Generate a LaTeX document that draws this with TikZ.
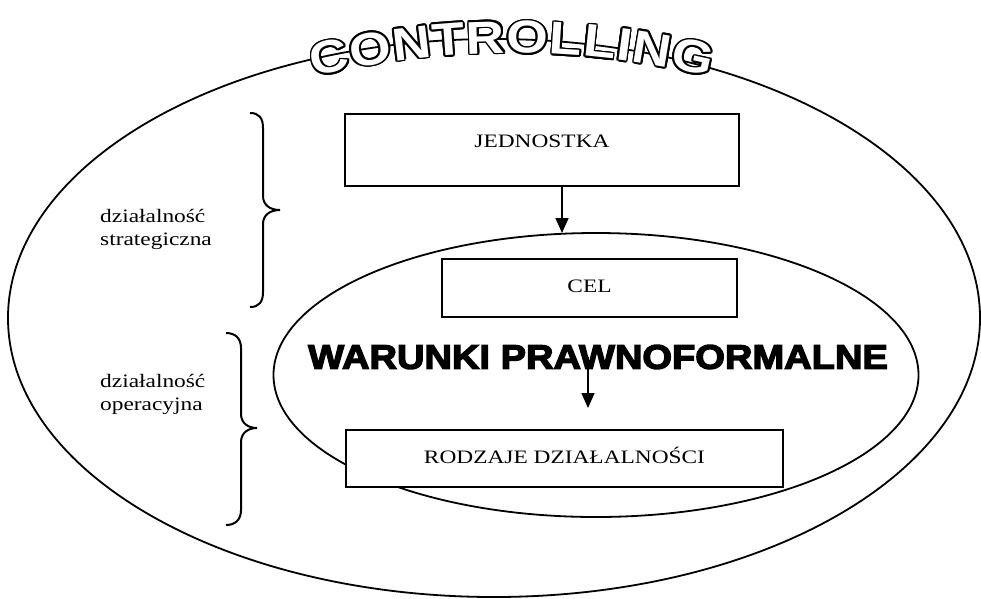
\documentclass[tikz,border=0pt]{standalone}
\usepackage{fontspec}
\usepackage{contour}
\usetikzlibrary{shapes.geometric, arrows.meta, positioning, calc}

\setmainfont{Liberation Serif}
\newfontfamily\scanserif[FakeStretch=1.23]{Liberation Serif}
\newfontfamily\heavysans[FakeStretch=1.12,FakeBold=4]{Liberation Sans Bold}
\newfontfamily\archsans[FakeStretch=1.16]{Liberation Sans Bold}
\contourlength{1.7pt}

\begin{document}
\begin{tikzpicture}[
      x=1pt, y=-1pt,
      oval/.style={ellipse, draw, line width=1.8pt, inner sep=0pt},
      box/.style={rectangle, draw, line width=1.6pt, fill=white, inner sep=0pt,
        text height=14pt, font=\scanserif\fontsize{19}{23}\selectfont},
      side/.style={align=left, anchor=west, inner sep=0pt, font=\scanserif\fontsize{19}{23}\selectfont},
      brace/.style={line width=2pt},
      arrow/.style={-{Triangle[length=15pt,width=13pt]}, line width=1.6pt},
      banner/.style={inner sep=0pt, font=\heavysans\fontsize{34}{34}\selectfont},
      letter/.style={anchor=base, inner sep=0pt, text=white, font=\archsans\fontsize{46}{46}\selectfont}
    ]
    \useasboundingbox (0,0) rectangle (981,598);

    % the two fields
    \node[oval, minimum width=972pt, minimum height=558pt] (outer) at (494,318) {};
    \node[oval, minimum width=645pt, minimum height=284pt] (inner) at (596,375) {};

    % boxes
    \node[box, minimum width=394pt, minimum height=72pt, text depth=19pt] (jed) at (542,150) {JEDNOSTKA};
    \node[box, minimum width=295pt, minimum height=58pt, text depth=5pt] (cel) at (589.5,288) {CEL};
    \node[box, minimum width=437pt, minimum height=57pt, text depth=5pt] (rodz) at (564.5,458.5) {RODZAJE DZIAŁALNOŚCI};

    \node[banner] (warunki) at (598,357) {WARUNKI PRAWNOFORMALNE};

    \coordinate (celtop) at (562,233);
    \coordinate (rodtop) at (588,408);
    \draw[arrow] (jed.south -| celtop) -- (celtop);
    \draw[arrow] (warunki.center -| rodtop) -- (rodtop);

    % braces and their labels
    \draw[brace] (250,113) .. controls (259,113) and (263,118) .. (263,128) -- (263,196)
      .. controls (263,205) and (270,210) .. (280,210) .. controls (270,210) and (263,215) .. (263,224)
      -- (263,292) .. controls (263,302) and (259,307) .. (250,307);
    \draw[brace] (226,333) .. controls (235,333) and (241,338) .. (241,348) -- (241,414)
      .. controls (241,423) and (248,428) .. (257,428) .. controls (248,428) and (241,433) .. (241,442)
      -- (241,510) .. controls (241,520) and (235,525) .. (226,525);
    \node[side] (strat) at (100,229) {działalność\\strategiczna};
    \node[side] (oper) at (100,394) {działalność\\operacyjna};

    % arched title
    \coordinate (arcc) at (512,884);
    \foreach \ch/\ang [count=\i] in {C/-12.47, O/-9.64, N/-6.81, T/-4.30, R/-1.78,
        O/1.05, L/3.67, L/5.97, I/7.65, N/9.54, G/12.36}
      \node[letter, rotate={-1*\ang}] (ltr\i) at ($(arcc)+(\ang-90:831)$) {\contour{black}{\ch}};
  \end{tikzpicture}
\end{document}
